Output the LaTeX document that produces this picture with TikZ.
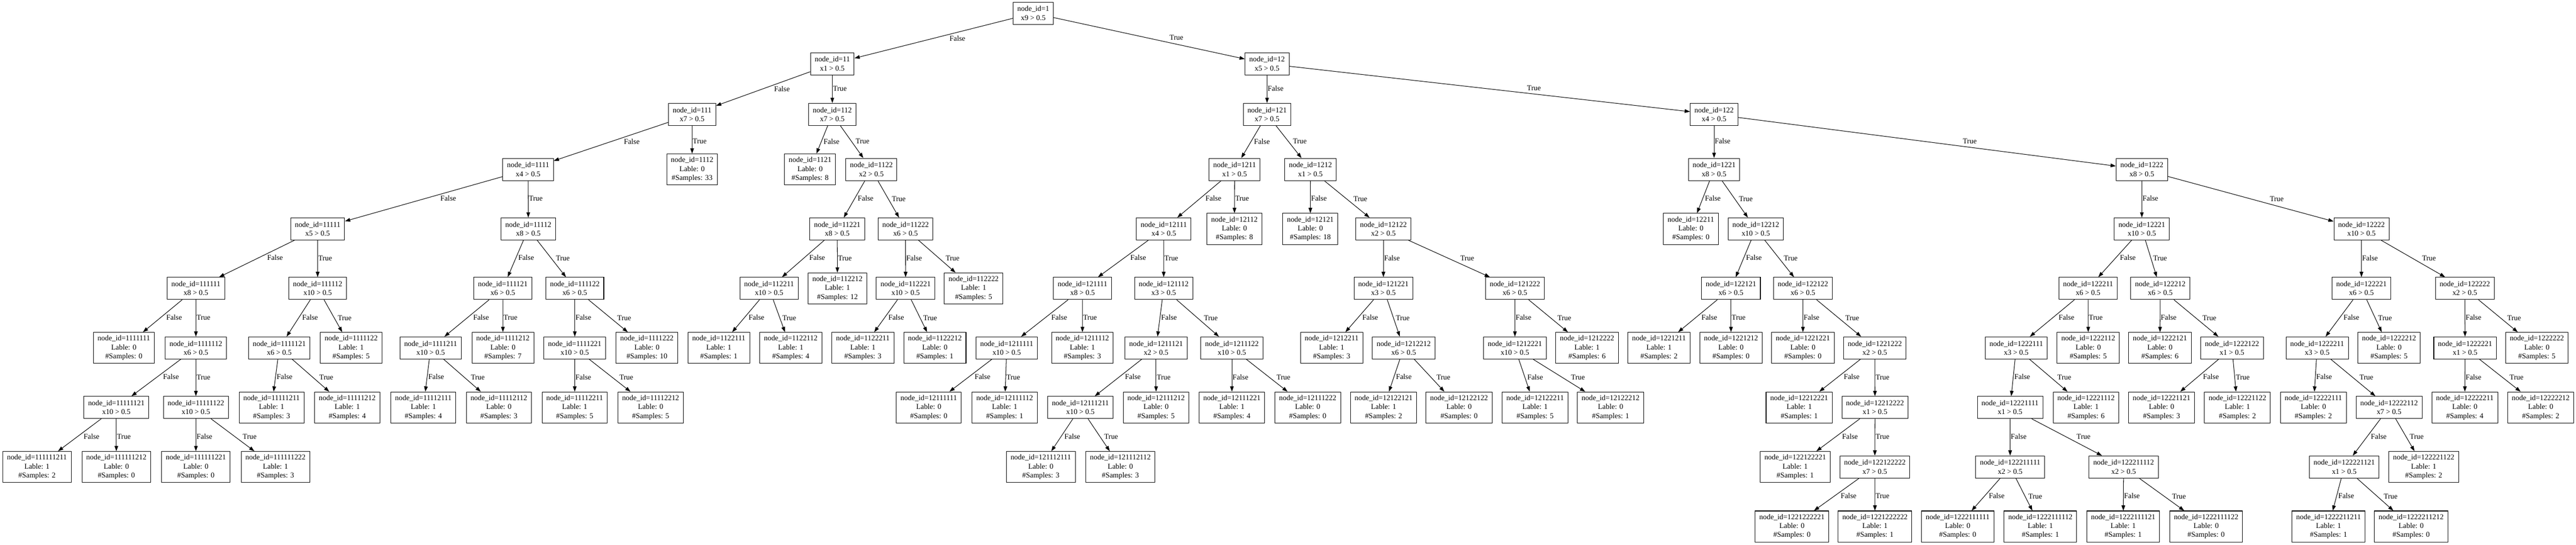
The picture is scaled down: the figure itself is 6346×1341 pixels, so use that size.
\documentclass[tikz,border=0pt]{standalone}
\usepackage{fontspec}
\setmainfont{Liberation Serif}
\usetikzlibrary{arrows.meta}
\tikzstyle{split} = [rectangle, draw=black, line width=1.3pt, inner xsep=10.4pt, inner ysep=0pt, minimum height=54.5pt, align=center]
\tikzstyle{leaf} = [rectangle, draw=black, line width=1.3pt, inner xsep=10.4pt, inner ysep=0pt, minimum height=76.5pt, align=center]
\tikzstyle{arrow} = [line width=1.3pt, -{Triangle[length=13pt, width=9pt]}]
\tikzstyle{lbl} = [auto, inner xsep=1.5pt, inner ysep=1pt, text height=14.5pt, text depth=5.5pt]
% edge with its label on the centre line
\newcommand{\fbranch}[3][.42]{\draw [arrow] (#2) -- (#3); \path (#2.center) -- node[lbl, pos=#1] {False} (#3.center);}
\newcommand{\tbranch}[3][.58]{\draw [arrow] (#2) -- (#3); \path (#2.center) -- node[lbl, pos=#1] {True} (#3.center);}
\begin{document}
\begin{tikzpicture}[x=1pt, y=-1pt, font=\fontsize{18.3}{22}\selectfont]
\useasboundingbox (0,0) rectangle (6346,1341);
%%%%% ADDING MAIN BLOCKS
% depth 0 - 2
\node (n1) [split] at (2545.5,32.5) {node\_id=1\\x9 > 0.5};
\node (n11) [split] at (2050.4,157) {node\_id=11\\x1 > 0.5};
\node (n12) [split] at (3121.4,157) {node\_id=12\\x5 > 0.5};
\node (n111) [split] at (1705,281.5) {node\_id=111\\x7 > 0.5};
\node (n112) [split] at (2050.4,281.5) {node\_id=112\\x7 > 0.5};
\node (n121) [split] at (3121.4,281.5) {node\_id=121\\x7 > 0.5};
\node (n122) [split] at (4222.6,281.5) {node\_id=122\\x4 > 0.5};
% depth 3
\node (n1111) [split] at (1301,417) {node\_id=1111\\x4 > 0.5};
\node (n1112) [leaf] at (1705,417) {node\_id=1112\\Lable: 0\\\#Samples: 33};
\node (n1121) [leaf] at (1995.6,417) {node\_id=1121\\Lable: 0\\\#Samples: 8};
\node (n1122) [split] at (2146.6,417) {node\_id=1122\\x2 > 0.5};
\node (n1211) [split] at (3041.4,417) {node\_id=1211\\x1 > 0.5};
\node (n1212) [split] at (3228.2,417) {node\_id=1212\\x1 > 0.5};
\node (n1221) [split] at (4222.6,417) {node\_id=1221\\x8 > 0.5};
\node (n1222) [split] at (5276.4,417) {node\_id=1222\\x8 > 0.5};
% depth 4
\node (n11111) [split] at (782.5,563.5) {node\_id=11111\\x5 > 0.5};
\node (n11112) [split] at (1301.5,563.5) {node\_id=11112\\x8 > 0.5};
\node (n11221) [split] at (2062.6,563.5) {node\_id=11221\\x8 > 0.5};
\node (n11222) [split] at (2230.8,563.5) {node\_id=11222\\x6 > 0.5};
\node (n12111) [split] at (2867,563.5) {node\_id=12111\\x4 > 0.5};
\node (n12112) [leaf] at (3041,563.5) {node\_id=12112\\Lable: 0\\\#Samples: 8};
\node (n12121) [leaf] at (3228,563.5) {node\_id=12121\\Lable: 0\\\#Samples: 18};
\node (n12122) [split] at (3408,563.5) {node\_id=12122\\x2 > 0.5};
\node (n12211) [leaf] at (4165.4,563.5) {node\_id=12211\\Lable: 0\\\#Samples: 0};
\node (n12212) [split] at (4325.4,563.5) {node\_id=12212\\x10 > 0.5};
\node (n12221) [split] at (5276.4,563.5) {node\_id=12221\\x10 > 0.5};
\node (n12222) [split] at (5817.4,563.5) {node\_id=12222\\x10 > 0.5};
% depth 5
\node (n111111) [split] at (482.6,710) {node\_id=111111\\x8 > 0.5};
\node (n111112) [split] at (782.5,710) {node\_id=111112\\x10 > 0.5};
\node (n111121) [split] at (1238.7,710) {node\_id=111121\\x6 > 0.5};
\node (n111122) [split] at (1416,710) {node\_id=111122\\x6 > 0.5};
\node (n112211) [split] at (1894.6,710) {node\_id=112211\\x10 > 0.5};
\node (n112212) [leaf] at (2063,710) {node\_id=112212\\Lable: 1\\\#Samples: 12};
\node (n112221) [split] at (2231,710) {node\_id=112221\\x10 > 0.5};
\node (n112222) [leaf] at (2398.5,710) {node\_id=112222\\Lable: 1\\\#Samples: 5};
\node (n121111) [split] at (2666.8,710) {node\_id=121111\\x8 > 0.5};
\node (n121112) [split] at (2866.7,710) {node\_id=121112\\x3 > 0.5};
\node (n121221) [split] at (3408,710) {node\_id=121221\\x3 > 0.5};
\node (n121222) [split] at (3732,710) {node\_id=121222\\x6 > 0.5};
\node (n122121) [split] at (4264.3,710) {node\_id=122121\\x6 > 0.5};
\node (n122122) [split] at (4441.5,710) {node\_id=122122\\x6 > 0.5};
\node (n122211) [split] at (5144,710) {node\_id=122211\\x6 > 0.5};
\node (n122212) [split] at (5321.8,710) {node\_id=122212\\x6 > 0.5};
\node (n122221) [split] at (5817.4,710) {node\_id=122221\\x6 > 0.5};
\node (n122222) [split] at (6072,710) {node\_id=122222\\x2 > 0.5};
% depth 6
\node (n1111111) [leaf] at (305,856.5) {node\_id=1111111\\Lable: 0\\\#Samples: 0};
\node (n1111112) [split] at (482.6,856.5) {node\_id=1111112\\x6 > 0.5};
\node (n1111121) [split] at (688,856.5) {node\_id=1111121\\x6 > 0.5};
\node (n1111122) [leaf] at (865,856.5) {node\_id=1111122\\Lable: 1\\\#Samples: 5};
\node (n1111211) [split] at (1061,856.5) {node\_id=1111211\\x10 > 0.5};
\node (n1111212) [leaf] at (1239,856.5) {node\_id=1111212\\Lable: 0\\\#Samples: 7};
\node (n1111221) [split] at (1416,856.5) {node\_id=1111221\\x10 > 0.5};
\node (n1111222) [leaf] at (1593.7,856.5) {node\_id=1111222\\Lable: 0\\\#Samples: 10};
\node (n1122111) [leaf] at (1770.8,856.5) {node\_id=1122111\\Lable: 1\\\#Samples: 1};
\node (n1122112) [leaf] at (1948,856.5) {node\_id=1122112\\Lable: 1\\\#Samples: 4};
\node (n1122211) [leaf] at (2125.7,856.5) {node\_id=1122211\\Lable: 1\\\#Samples: 3};
\node (n1122212) [leaf] at (2303,856.5) {node\_id=1122212\\Lable: 0\\\#Samples: 1};
\node (n1211111) [split] at (2480,856.5) {node\_id=1211111\\x10 > 0.5};
\node (n1211112) [leaf] at (2666.5,856.5) {node\_id=1211112\\Lable: 1\\\#Samples: 3};
\node (n1211121) [split] at (2848,856.5) {node\_id=1211121\\x2 > 0.5};
\node (n1211122) [split] at (3034.8,856.5) {node\_id=1211122\\x10 > 0.5};
\node (n1212211) [leaf] at (3280.5,856.5) {node\_id=1212211\\Lable: 1\\\#Samples: 3};
\node (n1212212) [split] at (3458,856.5) {node\_id=1212212\\x6 > 0.5};
\node (n1212221) [split] at (3732,856.5) {node\_id=1212221\\x10 > 0.5};
\node (n1212222) [leaf] at (3909.7,856.5) {node\_id=1212222\\Lable: 1\\\#Samples: 6};
\node (n1221211) [leaf] at (4086.9,856.5) {node\_id=1221211\\Lable: 1\\\#Samples: 2};
\node (n1221212) [leaf] at (4264.3,856.5) {node\_id=1221212\\Lable: 0\\\#Samples: 0};
\node (n1221221) [leaf] at (4441.5,856.5) {node\_id=1221221\\Lable: 0\\\#Samples: 0};
\node (n1221222) [split] at (4618.6,856.5) {node\_id=1221222\\x2 > 0.5};
\node (n1222111) [split] at (4967,856.5) {node\_id=1222111\\x3 > 0.5};
\node (n1222112) [leaf] at (5144.4,856.5) {node\_id=1222112\\Lable: 0\\\#Samples: 5};
\node (n1222121) [leaf] at (5321,856.5) {node\_id=1222121\\Lable: 0\\\#Samples: 6};
\node (n1222122) [split] at (5498.5,856.5) {node\_id=1222122\\x1 > 0.5};
\node (n1222211) [split] at (5708.3,856.5) {node\_id=1222211\\x3 > 0.5};
\node (n1222212) [leaf] at (5885.4,856.5) {node\_id=1222212\\Lable: 0\\\#Samples: 5};
\node (n1222221) [split] at (6072.7,856.5) {node\_id=1222221\\x1 > 0.5};
\node (n1222222) [leaf] at (6249.5,856.5) {node\_id=1222222\\Lable: 0\\\#Samples: 5};
% depth 7
\node (n11111121) [split] at (286.6,1003) {node\_id=11111121\\x10 > 0.5};
\node (n11111122) [split] at (482.6,1003) {node\_id=11111122\\x10 > 0.5};
\node (n11111211) [leaf] at (669,1003) {node\_id=11111211\\Lable: 1\\\#Samples: 3};
\node (n11111212) [leaf] at (855.5,1003) {node\_id=11111212\\Lable: 1\\\#Samples: 4};
\node (n11112111) [leaf] at (1043,1003) {node\_id=11112111\\Lable: 1\\\#Samples: 4};
\node (n11112112) [leaf] at (1229,1003) {node\_id=11112112\\Lable: 0\\\#Samples: 3};
\node (n11112211) [leaf] at (1415.8,1003) {node\_id=11112211\\Lable: 1\\\#Samples: 5};
\node (n11112212) [leaf] at (1602.8,1003) {node\_id=11112212\\Lable: 0\\\#Samples: 5};
\node (n12111111) [leaf] at (2288,1003) {node\_id=12111111\\Lable: 0\\\#Samples: 0};
\node (n12111112) [leaf] at (2475,1003) {node\_id=12111112\\Lable: 1\\\#Samples: 1};
\node (n12111211) [split] at (2661.6,1003) {node\_id=12111211\\x10 > 0.5};
\node (n12111212) [leaf] at (2848,1003) {node\_id=12111212\\Lable: 0\\\#Samples: 5};
\node (n12111221) [leaf] at (3034.8,1003) {node\_id=12111221\\Lable: 1\\\#Samples: 4};
\node (n12111222) [leaf] at (3221.5,1003) {node\_id=12111222\\Lable: 0\\\#Samples: 0};
\node (n12122121) [leaf] at (3408.5,1003) {node\_id=12122121\\Lable: 1\\\#Samples: 2};
\node (n12122122) [leaf] at (3594.4,1003) {node\_id=12122122\\Lable: 0\\\#Samples: 0};
\node (n12122211) [leaf] at (3781.7,1003) {node\_id=12122211\\Lable: 1\\\#Samples: 5};
\node (n12122212) [leaf] at (3967.6,1003) {node\_id=12122212\\Lable: 0\\\#Samples: 1};
\node (n12212221) [leaf] at (4432.4,1003) {node\_id=12212221\\Lable: 1\\\#Samples: 1};
\node (n12212222) [split] at (4619,1003) {node\_id=12212222\\x1 > 0.5};
\node (n12221111) [split] at (4951.8,1003) {node\_id=12221111\\x1 > 0.5};
\node (n12221112) [leaf] at (5139,1003) {node\_id=12221112\\Lable: 1\\\#Samples: 6};
\node (n12221121) [leaf] at (5325,1003) {node\_id=12221121\\Lable: 0\\\#Samples: 3};
\node (n12221122) [leaf] at (5511.9,1003) {node\_id=12221122\\Lable: 1\\\#Samples: 2};
\node (n12222111) [leaf] at (5699,1003) {node\_id=12222111\\Lable: 0\\\#Samples: 2};
\node (n12222112) [split] at (5885.4,1003) {node\_id=12222112\\x7 > 0.5};
\node (n12222211) [leaf] at (6072,1003) {node\_id=12222211\\Lable: 0\\\#Samples: 4};
\node (n12222212) [leaf] at (6259,1003) {node\_id=12222212\\Lable: 0\\\#Samples: 2};
% depth 8
\node (n111111211) [leaf] at (91,1149.5) {node\_id=111111211\\Lable: 1\\\#Samples: 2};
\node (n111111212) [leaf] at (286.6,1149.5) {node\_id=111111212\\Lable: 0\\\#Samples: 0};
\node (n111111221) [leaf] at (482.6,1149.5) {node\_id=111111221\\Lable: 0\\\#Samples: 0};
\node (n111111222) [leaf] at (678.7,1149.5) {node\_id=111111222\\Lable: 1\\\#Samples: 3};
\node (n121112111) [leaf] at (2564,1149.5) {node\_id=121112111\\Lable: 0\\\#Samples: 3};
\node (n121112112) [leaf] at (2760,1149.5) {node\_id=121112112\\Lable: 0\\\#Samples: 3};
\node (n122122221) [leaf] at (4422.5,1149.5) {node\_id=122122221\\Lable: 1\\\#Samples: 1};
\node (n122122222) [split] at (4618.6,1149.5) {node\_id=122122222\\x7 > 0.5};
\node (n122211111) [split] at (4952,1149.5) {node\_id=122211111\\x2 > 0.5};
\node (n122211112) [split] at (5231.5,1149.5) {node\_id=122211112\\x2 > 0.5};
\node (n122221121) [split] at (5775,1149.5) {node\_id=122221121\\x1 > 0.5};
\node (n122221122) [leaf] at (5970.7,1149.5) {node\_id=122221122\\Lable: 1\\\#Samples: 2};
% depth 9
\node (n1221222221) [leaf] at (4414.5,1296) {node\_id=1221222221\\Lable: 0\\\#Samples: 0};
\node (n1221222222) [leaf] at (4619,1296) {node\_id=1221222222\\Lable: 1\\\#Samples: 1};
\node (n1222111111) [leaf] at (4822.7,1296) {node\_id=1222111111\\Lable: 0\\\#Samples: 0};
\node (n1222111112) [leaf] at (5026.5,1296) {node\_id=1222111112\\Lable: 1\\\#Samples: 1};
\node (n1222111121) [leaf] at (5230.5,1296) {node\_id=1222111121\\Lable: 1\\\#Samples: 1};
\node (n1222111122) [leaf] at (5434.7,1296) {node\_id=1222111122\\Lable: 0\\\#Samples: 0};
\node (n1222211211) [leaf] at (5736.4,1296) {node\_id=1222211211\\Lable: 1\\\#Samples: 1};
\node (n1222211212) [leaf] at (5939.8,1296) {node\_id=1222211212\\Lable: 0\\\#Samples: 0};

%%%%% ADDING ARROWS
\fbranch{n1}{n11} \tbranch{n1}{n12}
\fbranch{n11}{n111} \tbranch[.5]{n11}{n112}
\fbranch[.5]{n12}{n121} \tbranch{n12}{n122}
\fbranch{n111}{n1111} \tbranch[.5]{n111}{n1112}
\fbranch{n112}{n1121} \tbranch{n112}{n1122}
\fbranch{n121}{n1211} \tbranch{n121}{n1212}
\fbranch[.5]{n122}{n1221} \tbranch{n122}{n1222}
\fbranch{n1111}{n11111} \tbranch[.5]{n1111}{n11112}
\fbranch{n1122}{n11221} \tbranch{n1122}{n11222}
\fbranch{n1211}{n12111} \tbranch[.5]{n1211}{n12112}
\fbranch[.5]{n1212}{n12121} \tbranch{n1212}{n12122}
\fbranch{n1221}{n12211} \tbranch{n1221}{n12212}
\fbranch[.5]{n1222}{n12221} \tbranch{n1222}{n12222}
\fbranch{n11111}{n111111} \tbranch[.5]{n11111}{n111112}
\fbranch{n11112}{n111121} \tbranch{n11112}{n111122}
\fbranch{n11221}{n112211} \tbranch[.5]{n11221}{n112212}
\fbranch[.5]{n11222}{n112221} \tbranch{n11222}{n112222}
\fbranch{n12111}{n121111} \tbranch[.5]{n12111}{n121112}
\fbranch[.5]{n12122}{n121221} \tbranch{n12122}{n121222}
\fbranch{n12212}{n122121} \tbranch{n12212}{n122122}
\fbranch{n12221}{n122211} \tbranch{n12221}{n122212}
\fbranch[.5]{n12222}{n122221} \tbranch{n12222}{n122222}
\fbranch{n111111}{n1111111} \tbranch[.5]{n111111}{n1111112}
\fbranch{n111112}{n1111121} \tbranch{n111112}{n1111122}
\fbranch{n111121}{n1111211} \tbranch[.5]{n111121}{n1111212}
\fbranch[.5]{n111122}{n1111221} \tbranch{n111122}{n1111222}
\fbranch{n112211}{n1122111} \tbranch{n112211}{n1122112}
\fbranch{n112221}{n1122211} \tbranch{n112221}{n1122212}
\fbranch{n121111}{n1211111} \tbranch[.5]{n121111}{n1211112}
\fbranch{n121112}{n1211121} \tbranch{n121112}{n1211122}
\fbranch{n121221}{n1212211} \tbranch{n121221}{n1212212}
\fbranch[.5]{n121222}{n1212221} \tbranch{n121222}{n1212222}
\fbranch{n122121}{n1221211} \tbranch[.5]{n122121}{n1221212}
\fbranch[.5]{n122122}{n1221221} \tbranch{n122122}{n1221222}
\fbranch{n122211}{n1222111} \tbranch[.5]{n122211}{n1222112}
\fbranch[.5]{n122212}{n1222121} \tbranch{n122212}{n1222122}
\fbranch{n122221}{n1222211} \tbranch{n122221}{n1222212}
\fbranch[.5]{n122222}{n1222221} \tbranch{n122222}{n1222222}
\fbranch{n1111112}{n11111121} \tbranch[.5]{n1111112}{n11111122}
\fbranch{n1111121}{n11111211} \tbranch{n1111121}{n11111212}
\fbranch{n1111211}{n11112111} \tbranch{n1111211}{n11112112}
\fbranch[.5]{n1111221}{n11112211} \tbranch{n1111221}{n11112212}
\fbranch{n1211111}{n12111111} \tbranch[.5]{n1211111}{n12111112}
\fbranch{n1211121}{n12111211} \tbranch[.5]{n1211121}{n12111212}
\fbranch[.5]{n1211122}{n12111221} \tbranch{n1211122}{n12111222}
\fbranch{n1212212}{n12122121} \tbranch{n1212212}{n12122122}
\fbranch[.58]{n1212221}{n12122211} \tbranch{n1212221}{n12122212}
\fbranch{n1221222}{n12212221} \tbranch[.5]{n1221222}{n12212222}
\fbranch{n1222111}{n12221111} \tbranch{n1222111}{n12221112}
\fbranch{n1222122}{n12221121} \tbranch{n1222122}{n12221122}
\fbranch{n1222211}{n12222111} \tbranch{n1222211}{n12222112}
\fbranch[.5]{n1222221}{n12222211} \tbranch{n1222221}{n12222212}
\fbranch{n11111121}{n111111211} \tbranch[.5]{n11111121}{n111111212}
\fbranch[.5]{n11111122}{n111111221} \tbranch{n11111122}{n111111222}
\fbranch{n12111211}{n121112111} \tbranch{n12111211}{n121112112}
\fbranch{n12212222}{n122122221} \tbranch[.5]{n12212222}{n122122222}
\fbranch[.5]{n12221111}{n122211111} \tbranch{n12221111}{n122211112}
\fbranch{n12222112}{n122221121} \tbranch{n12222112}{n122221122}
\fbranch{n122122222}{n1221222221} \tbranch[.5]{n122122222}{n1221222222}
\fbranch{n122211111}{n1222111111} \tbranch{n122211111}{n1222111112}
\fbranch[.5]{n122211112}{n1222111121} \tbranch{n122211112}{n1222111122}
\fbranch{n122221121}{n1222211211} \tbranch{n122221121}{n1222211212}
\end{tikzpicture}
\end{document}
